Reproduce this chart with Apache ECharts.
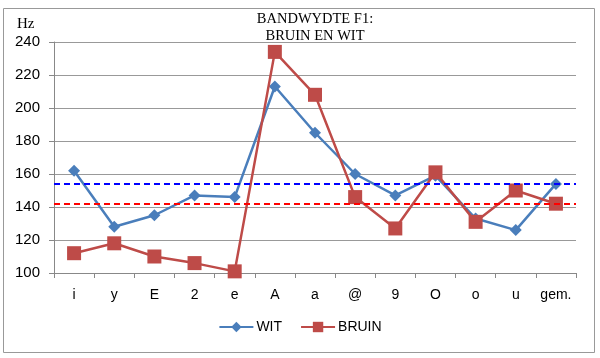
<!DOCTYPE html>
<html>
<head>
<meta charset="utf-8">
<script src="https://cdn.jsdelivr.net/npm/echarts@6/dist/echarts.min.js"></script>
<style>html,body{margin:0;padding:0;background:#fff}#c{width:600px;height:358px}</style>
</head>
<body>
<div id="c"></div>
<script>
const categories = ['i','y','E','2','e','A','a','@','9','O','o','u','gem.'];
const witValues = [162,128,135,147,146,213,185,160,147,159,133,126,154];
const bruinValues = [112,118,110,106,101,234,208,146,127,161,131,150,142];
const witMean = 154;
const bruinMean = 142;
const yTicks = {min:100, max:240, interval:20};

const chart = echarts.init(document.getElementById('c'));
chart.setOption({
  animation: false,
  backgroundColor: '#fff',
  graphic: [
    {type:'rect', shape:{x:3.5,y:8.5,width:591,height:344}, style:{fill:'none', stroke:'#999', lineWidth:1}, z:-10},
    {type:'text', left:17, top:17, style:{text:'Hz', font:'15px "Liberation Serif"', fill:'#000'}},
    {type:'text', x:315, y:11, style:{text:'BANDWYDTE F1:\nBRUIN EN WIT', font:'14.5px "Liberation Serif"', fill:'#000', align:'center', lineHeight:17}}
  ],
  grid: {left:54, right:24, top:42, bottom:85},
  legend: {
    bottom: 19, left: 'center',
    itemWidth: 34, itemHeight: 13, itemGap: 18,
    textStyle: {fontFamily:'Liberation Sans', fontSize:14, color:'#000', padding:[0,0,0,-2]},
    data: ['WIT','BRUIN']
  },
  xAxis: {
    type: 'category',
    data: categories,
    boundaryGap: true,
    axisLine: {lineStyle:{color:'#888', width:1}},
    axisTick: {show:true, length:5, interval:0, lineStyle:{color:'#888'}},
    axisLabel: {interval:0, color:'#000', fontFamily:'Liberation Sans', fontSize:14, margin:15}
  },
  yAxis: {
    type: 'value',
    min: yTicks.min, max: yTicks.max, interval: yTicks.interval,
    axisLine: {show:true, lineStyle:{color:'#888', width:1}},
    axisTick: {show:true, length:5, lineStyle:{color:'#888'}},
    axisLabel: {color:'#000', fontFamily:'Liberation Sans', fontSize:15, margin:14},
    splitLine: {lineStyle:{color:'#999', width:1}}
  },
  series: [
    {
      name:'WIT', type:'line', data: witValues,
      symbol:'diamond', symbolSize:12,
      lineStyle:{color:'#4A7EBB', width:2.5},
      itemStyle:{color:'#4A7EBB'},
      z: 3,
      markLine: {
        silent:true, symbol:'none', label:{show:false},
        lineStyle:{color:'#0000FF', type:[6,4], width:2},
        data:[{yAxis: witMean}]
      }
    },
    {
      name:'BRUIN', type:'line', data: bruinValues,
      symbol:'rect', symbolSize:14,
      lineStyle:{color:'#BE4B48', width:2.5},
      itemStyle:{color:'#BE4B48'},
      z: 4,
      markLine: {
        silent:true, symbol:'none', label:{show:false},
        lineStyle:{color:'#FF0000', type:[6,4], width:2},
        data:[{yAxis: bruinMean}]
      }
    }
  ]
});
</script>
</body>
</html>
